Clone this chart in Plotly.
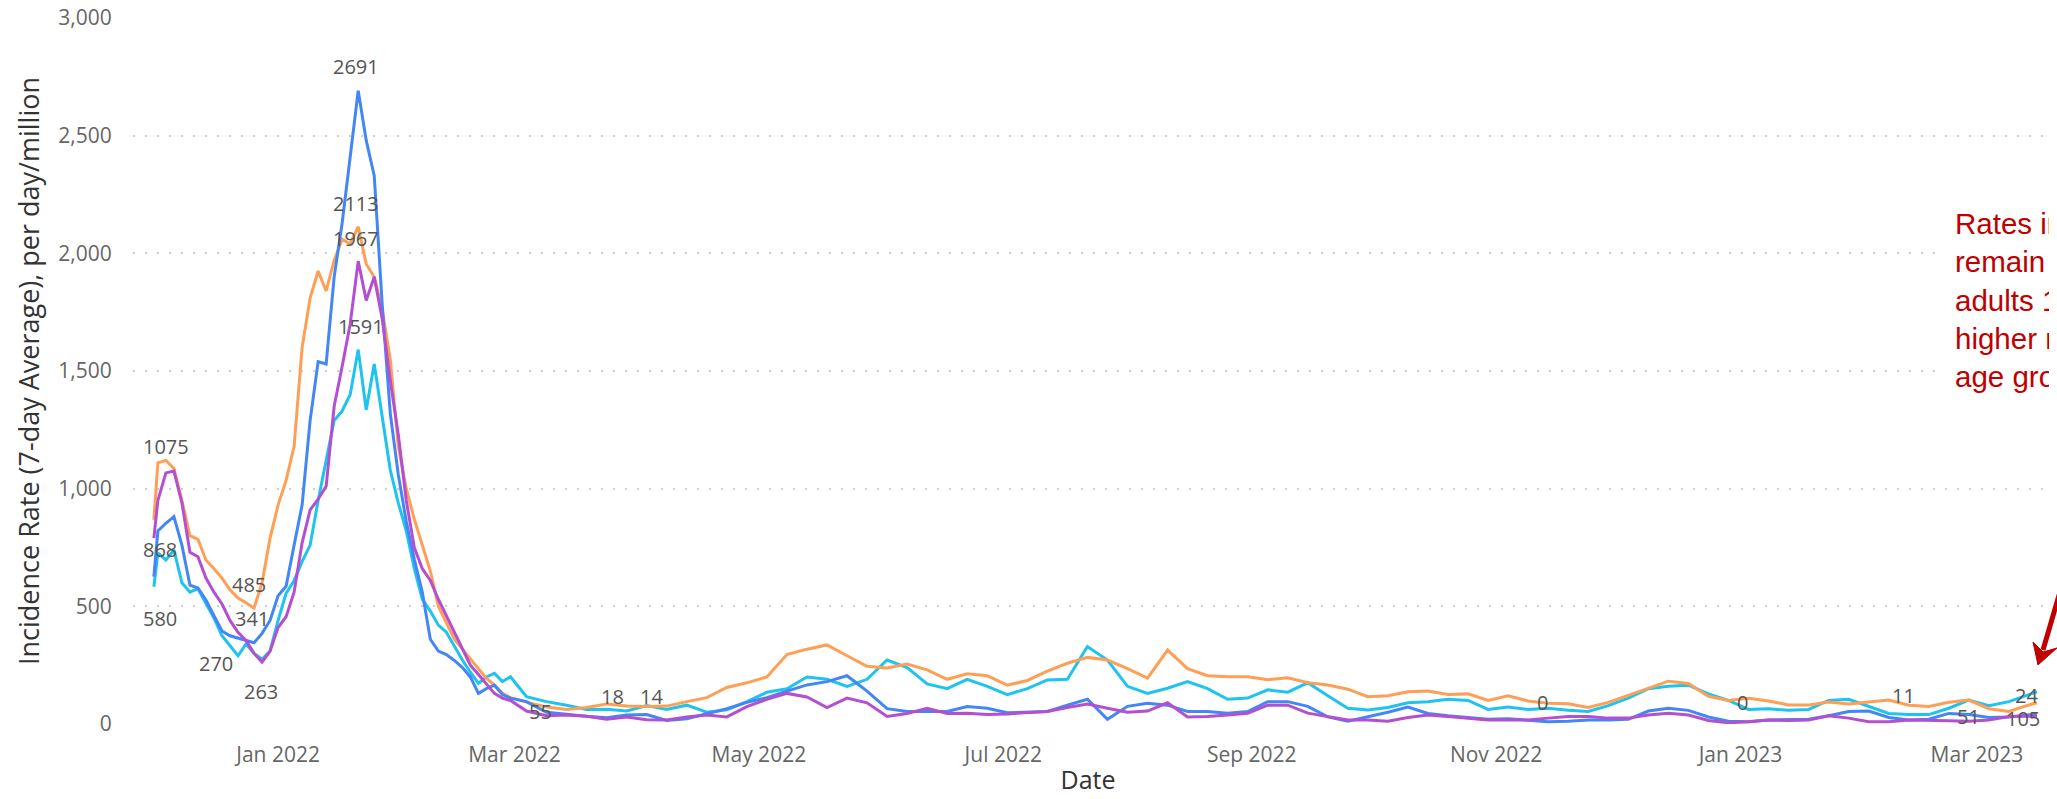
import pandas as pd
import plotly.graph_objects as go

# ---- dates (sampling grid of the daily 7-day averages) ----
dates_a = ["2021-12-01"] + [d.strftime("%Y-%m-%d") for d in pd.date_range("2021-12-02", "2022-02-28", freq="2D")]
dates_b = [d.strftime("%Y-%m-%d") for d in pd.date_range("2022-03-04", "2023-03-14", freq="5D")]
dates = dates_a + dates_b + ["2023-03-16"]

# ---- series values (incidence per day per million, 7-day avg) ----
orange = [
    867, 1110, 1120, 1086, 950, 800, 785, 697, 660, 620,
    570, 535, 515, 492, 600, 790, 930, 1035, 1180, 1600,
    1810, 1925, 1840, 1970, 2060, 2040, 2113, 1955, 1900, 1760,
    1550, 1180, 1000, 870, 760, 650, 500, 430, 360, 318,
    275, 235, 195, 165, 130, 112,
    93, 72, 62, 70, 85, 76, 74, 76, 95, 112,
    155, 175, 200, 295, 318, 336, 290, 245, 238, 255,
    230, 190, 213, 205, 165, 185, 225, 258, 283, 272,
    235, 195, 314, 235, 205, 201, 201, 188, 196, 175,
    166, 148, 116, 120, 137, 140, 125, 128, 100, 120,
    98, 88, 86, 70, 92, 122, 155, 182, 172, 118,
    100, 109, 98, 81, 81, 93, 85, 95, 102, 80,
    74, 92, 102, 65, 53, 81,
    90,
]
cyan = [
    583, 727, 697, 740, 600, 560, 575, 510, 450, 375,
    330, 290, 340, 300, 275, 310, 440, 555, 610, 690,
    760, 950, 1120, 1290, 1330, 1400, 1591, 1335, 1530, 1300,
    1080, 940, 820, 660, 530, 480, 420, 390, 330, 272,
    220, 173, 200, 215, 180, 201,
    116, 95, 80, 62, 63, 55, 78, 62, 80, 50,
    60, 95, 135, 150, 200, 190, 160, 190, 272, 240,
    170, 150, 190, 160, 125, 150, 187, 190, 329, 272,
    160, 130, 152, 180, 150, 105, 110, 145, 135, 175,
    120, 67, 60, 70, 90, 95, 105, 100, 62, 72,
    62, 67, 58, 53, 78, 110, 150, 160, 165, 128,
    100, 62, 65, 58, 62, 100, 105, 75, 45, 40,
    40, 67, 102, 78, 95, 125,
    137,
]
blue = [
    626, 820, 853, 881, 760, 590, 578, 527, 460, 395,
    375, 365, 355, 345, 385, 440, 545, 585, 760, 930,
    1290, 1540, 1530, 1900, 2130, 2400, 2691, 2480, 2330, 1780,
    1320, 1060, 860, 700, 560, 360, 310, 295, 270, 240,
    200, 130, 150, 165, 125, 110,
    95, 50, 40, 33, 27, 38, 40, 15, 22, 45,
    65, 92, 112, 140, 166, 180, 205, 140, 65, 53,
    53, 53, 74, 67, 48, 50, 53, 80, 105, 20,
    75, 88, 80, 53, 53, 46, 53, 95, 95, 75,
    30, 12, 30, 50, 72, 45, 35, 28, 20, 22,
    15, 10, 12, 17, 17, 20, 55, 67, 58, 30,
    12, 10, 17, 17, 20, 35, 53, 55, 28, 17,
    20, 45, 40, 28, 30, 39,
    40,
]
purple = [
    790, 950, 1067, 1075, 940, 730, 711, 620, 560, 510,
    440, 390, 355, 300, 263, 310, 410, 456, 560, 770,
    910, 955, 1010, 1350, 1520, 1700, 1967, 1800, 1900, 1720,
    1460, 1230, 950, 750, 660, 610, 530, 460, 390, 320,
    250, 210, 170, 130, 110, 100,
    55, 35, 38, 33, 20, 30, 18, 17, 30, 38,
    30, 74, 105, 130, 115, 70, 110, 90, 32, 45,
    67, 45, 46, 40, 43, 48, 53, 70, 85, 67,
    50, 55, 90, 30, 32, 38, 46, 80, 80, 46,
    30, 17, 17, 12, 28, 38, 32, 25, 17, 17,
    17, 25, 32, 32, 25, 25, 38, 46, 38, 15,
    5, 10, 17, 15, 17, 35, 25, 10, 10, 17,
    17, 14, 12, 17, 32, 32,
    33,
]

series_names = ["Series A", "Series B", "Series C", "Series D"]
series_values = [cyan, orange, blue, purple]
series_colors = ["#1EC3F0", "#FF9F55", "#4287F5", "#B450D0"]

# ---- data labels (text, date, value of label centre) ----
label_text = ["2691", "2113", "1967", "1591", "1075", "868", "580", "485", "341", "270",
              "263", "55", "18", "14", "0", "0", "11", "51", "24", "105"]
label_date = ["2022-01-20 12:00", "2022-01-20 12:00", "2022-01-20 12:00", "2022-01-21 14:00",
              "2021-12-04 00:00", "2021-12-02 10:00", "2021-12-02 10:00", "2021-12-24 20:00",
              "2021-12-25 14:00", "2021-12-16 12:00", "2021-12-27 17:00", "2022-03-07 12:00",
              "2022-03-25 14:00", "2022-04-04 02:00", "2022-11-12 14:00", "2023-01-01 10:00",
              "2023-02-10 14:00", "2023-02-26 20:00", "2023-03-13 07:00", "2023-03-12 15:00"]
label_value = [2793, 2213, 2064, 1688, 1178, 740, 449, 591, 449, 258,
               137, 52, 116, 116, 93, 93, 123, 31, 123, 25]

ytick_vals = [0, 500, 1000, 1500, 2000, 2500, 3000]
xtick_vals = ["2022-01-01", "2022-03-01", "2022-05-01", "2022-07-01", "2022-09-01",
              "2022-11-01", "2023-01-01", "2023-03-01"]
xtick_text = ["Jan 2022", "Mar 2022", "May 2022", "Jul 2022", "Sep 2022",
              "Nov 2022", "Jan 2023", "Mar 2023"]

assert all(len(v) == len(dates) for v in series_values), [len(v) for v in series_values] + [len(dates)]

# page layout (body margin removed in post_script, so figure == page)
W, H = 2057, 799
X0, X1, Y0, Y1 = 133, 2043, 18, 724          # plot area in page pixels
ML, MR, MT, MB = X0, W - X1, Y0, H - Y1


def page_to_paper(px, py):
    return (px - X0) / (X1 - X0), (Y1 - py) / (Y1 - Y0)


font_main = "Segoe UI, Open Sans, sans-serif"

fig = go.Figure()
for name, vals, col in zip(series_names, series_values, series_colors):
    fig.add_trace(go.Scatter(x=dates, y=vals, mode="lines", name=name,
                             line=dict(color=col, width=3)))

for t, d, v in zip(label_text, label_date, label_value):
    fig.add_annotation(x=d, y=v, xref="x", yref="y", text=t, showarrow=False,
                       font=dict(family=font_main, size=20, color="#555555"))

# red comment box (its text is cut off by the frame, as in the original)
bx, by = page_to_paper(1945, 197)
fig.add_annotation(xref="paper", yref="paper", x=bx, y=by, xanchor="left", yanchor="top",
                   text="Rates in all age groups<br>remain low, with<br>adults 18+ showing<br>higher rates than other<br>age groups",
                   align="left", showarrow=False, bgcolor="white", borderpad=10, borderwidth=0,
                   width=94,
                   font=dict(family="Liberation Sans, Arial, sans-serif", size=29.5, color="#C00000"))

# red arrow: shaft + barbed head
red = "#C00000"
sx0, sy0 = page_to_paper(2062, 585)
sx1, sy1 = page_to_paper(2043, 650)
fig.add_shape(type="line", xref="paper", yref="paper", x0=sx0, y0=sy0, x1=sx1, y1=sy1,
              line=dict(color=red, width=5), layer="above")
head_pts = [(2038, 665), (2057, 648), (2043, 652), (2033, 642)]
hp = [page_to_paper(px, py) for px, py in head_pts]
path = "M " + " L ".join(f"{x:.5f},{y:.5f}" for x, y in hp) + " Z"
fig.add_shape(type="path", xref="paper", yref="paper", path=path, layer="above",
              fillcolor=red, line=dict(color=red, width=1))

fig.update_layout(
    width=W, height=H,
    margin=dict(l=ML, r=MR, t=MT, b=MB, autoexpand=False),
    paper_bgcolor="white", plot_bgcolor="white",
    showlegend=False,
    font=dict(family=font_main, color="#666666"),
    xaxis=dict(
        range=["2021-11-25 19:00", "2023-03-17 12:00"],
        tickvals=xtick_vals, ticktext=xtick_text, automargin=False,
        tickfont=dict(size=21, color="#666666"),
        ticks="outside", ticklen=12, tickcolor="rgba(0,0,0,0)",
        showgrid=False, showline=False, zeroline=False,
        title=dict(text="Date", font=dict(size=25, color="#333333"), standoff=4),
    ),
    yaxis=dict(
        range=[0, 3000], automargin=False, ticklabeloverflow="allow",
        tickvals=ytick_vals, tickformat=",",
        tickfont=dict(size=21, color="#666666"),
        ticks="outside", ticklen=16, tickcolor="rgba(0,0,0,0)",
        showgrid=True, gridcolor="#CFCFCF", gridwidth=1.5, griddash="2px,10px",
        showline=False, zeroline=False,
        title=dict(text="Incidence Rate (7-day Average), per day/million",
                   font=dict(size=27, color="#333333"), standoff=10),
    ),
)

fig.write_html(
    "out.html",
    config={"displayModeBar": False},
    post_script=("document.body.style.margin='0px';"
                 "document.documentElement.style.overflow='hidden';"
                 "document.body.style.overflow='hidden';"),
)
